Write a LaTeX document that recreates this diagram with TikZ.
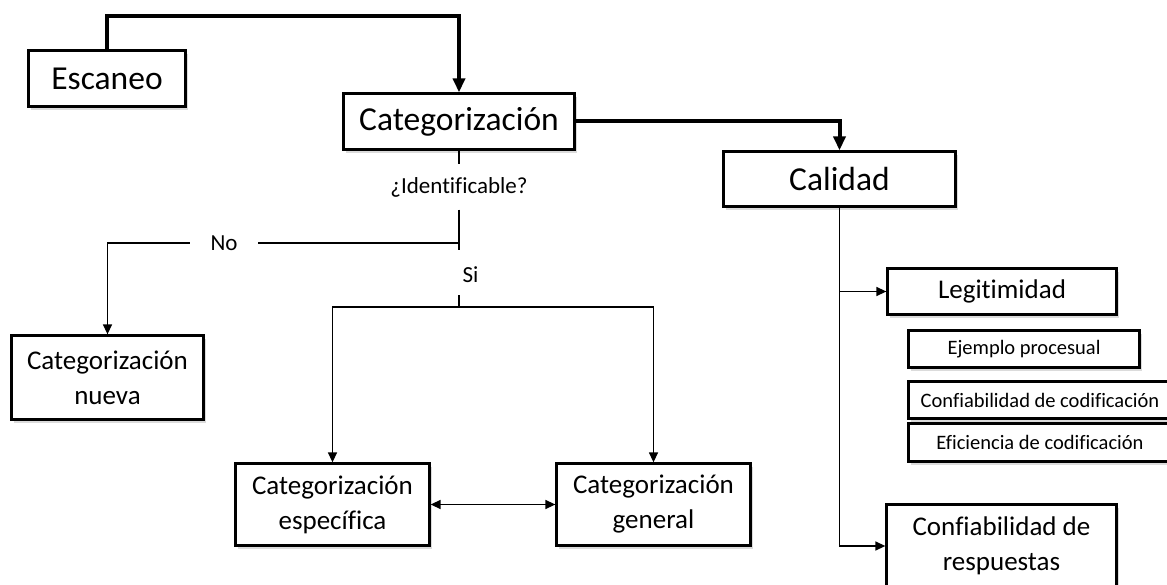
\documentclass[tikz,border=0pt]{standalone}
\usepackage{fontspec}
\setmainfont{Carlito}[Ligatures=NoCommon]
\usetikzlibrary{arrows.meta,shadows,positioning}
\newcommand{\bigtxt}{\fontsize{33.5}{40}\selectfont}
\newcommand{\midtxt}{\fontsize{27}{35}\selectfont}
\newcommand{\smalltxt}{\fontsize{20.5}{24}\selectfont}
\newcommand{\lbltxt}{\fontsize{23}{27}\selectfont}
\tikzset{
    block/.style={
           rectangle,
           draw=black, line width=2.3pt,
           fill=white,
           drop shadow={shadow xshift=2.5pt,shadow yshift=-3.5pt,fill=black!40,opacity=0.35},
           inner sep=0pt,
           align=center,
           },
    bigblock/.style={block, font=\bigtxt},
    midblock/.style={block, font=\midtxt},
    smallblock/.style={block, font=\smalltxt},
    lbl/.style={inner sep=0pt, font=\lbltxt},
    thinline/.style={line width=1.4pt},
    thickline/.style={line width=4pt, -{Triangle[length=14pt,width=12pt]}},
}

\begin{document}
\begin{tikzpicture}[x=1pt,y=-1pt,>={Triangle[length=10pt,width=9pt]}]
        \useasboundingbox (0,0) rectangle (1167,585);

        % BLOCK ESCANEO
        \node[bigblock, minimum width=157pt, minimum height=56pt] (esc) at (107,78.5) {Escaneo};

        % BLOCK CATEGORIZACION
        \node[bigblock, minimum width=231pt, minimum height=56pt] (cat) at (459,121.5) {Categorización};

        % BLOCK CALIDAD
        \node[bigblock, minimum width=232pt, minimum height=55pt] (cal) at (839.5,179) {Calidad};

        % question and answers below categorizacion
        \node[lbl, minimum height=45pt] (ident) at (459,187) {¿Identificable?};
        \node[lbl, minimum width=68pt] (no) at (224,243) {No};
        \node[lbl, minimum height=40pt] (si) at (470.5,275) {Si};
        \coordinate (tee) at (459,250);
        \coordinate (fork) at (459,307);
        \coordinate (topline) at (459,16);

        % BLOCK CATEGORIZACION NUEVA
        \node[midblock, minimum width=192pt, minimum height=84pt] (nueva) at (107.5,377.5)
        {Categorización\\nueva};

        % BLOCKS ESPECIFICA / GENERAL
        \node[midblock, minimum width=194pt, minimum height=82pt] (esp) at (332.5,504.5)
        {Categorización\\específica};
        \node[midblock, minimum width=194pt, minimum height=82pt] (gen) at (653.5,504.5)
        {Categorización\\general};

        % BLOCKS UNDER CALIDAD
        \node[midblock, minimum width=229pt, minimum height=46pt] (leg) at (1002,291.5) {Legitimidad};
        \node[smallblock, minimum width=231pt, minimum height=37pt] (ejem) at (1024,349) {Ejemplo procesual};
        \node[smallblock, minimum width=263pt, minimum height=37pt] (confcod) at (1040,400) {Confiabilidad de codificación};
        \node[smallblock, minimum width=263pt, minimum height=38pt] (efic) at (1040,442.5) {Eficiencia de codificación};
        \node[midblock, minimum width=230pt, minimum height=83pt] (resp) at (1001.5,546)
        {Confiabilidad de\\respuestas};

        % thick flow
        \draw[thickline] (esc.north) |- (topline) -- (cat.north);
        \draw[thickline] (cat.east) -| (cal.north);

        % identificable?
        \draw[thinline] (cat.south) -- (ident.north);
        \draw[thinline] (ident.south) -- (tee);
        \draw[thinline] (ident.south |- no.east) -- (no.east);
        \draw[thinline,->] (no.west) -| (nueva.north);
        \draw[thinline] (si.south -| fork) -- (fork);
        \draw[thinline,->] (fork) -| (esp.north);
        \draw[thinline,->] (fork) -| (gen.north);
        \draw[thinline,<->] (esp) -- (gen);

        % calidad
        \draw[thinline,->] (cal.south) |- (resp.west);
        \draw[thinline,->] (cal.south |- leg.west) -- (leg.west);
\end{tikzpicture}
\end{document}
